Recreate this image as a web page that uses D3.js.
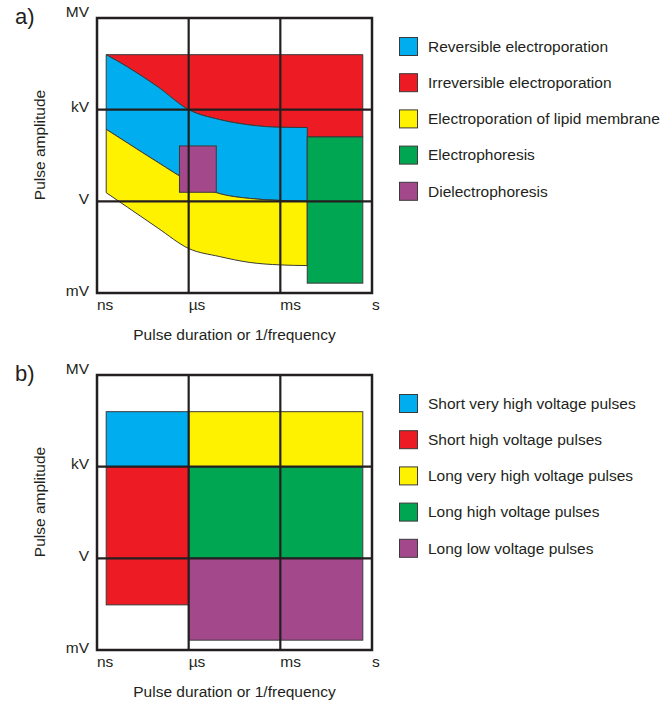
<!DOCTYPE html>
<html>
<head>
<meta charset="utf-8">
<script src="https://cdn.jsdelivr.net/npm/d3@7"></script>
<style>
  html, body { margin: 0; padding: 0; background: #fff; }
  svg { display: block; font-family: "Liberation Sans", Arial, sans-serif; }
</style>
</head>
<body>
<svg id="chart" width="661" height="702"></svg>
<script>
// Axis ticks (log decades)
const tickTimes = [1e-9, 1e-6, 1e-3, 1];
const timeLabels = ["ns", "µs", "ms", "s"];
const tickVolts = [1e-3, 1, 1e3, 1e6];
const voltLabels = ["mV", "V", "kV", "MV"];

// Panel a: boundaries sampled along pulse duration (s), amplitudes in V
const boundaryT = [2e-9, 1e-8, 1e-7, 1e-6, 1e-5, 1e-4, 1e-3, 7.6e-3];
const irreversibleV = [6.3e4, 2.5e4, 5.5e3, 1e3, 478, 316, 265, 260];
const reversibleV = [228, 81, 18.7, 4.6, 1.8, 1.24, 1.07, 1.0];
const lipidLowV = [1.92, 0.64, 0.132, 0.0286, 0.0157, 0.0100, 0.0083, 0.0079];
const topV = 6.3e4;
const endT = 0.5;
const electrophoresisT = [7.6e-3, 0.5];
const electrophoresisV = [2.1e-3, 128];
const dielectrophoresisT = [5e-7, 8e-6];
const dielectrophoresisV = [1.98, 65];

const aLabels = ["Reversible electroporation", "Irreversible electroporation",
  "Electroporation of lipid membrane", "Electrophoresis", "Dielectrophoresis"];
const aColors = ["#00aeef", "#ed1c24", "#fff200", "#00a651", "#a3498b"];

// Panel b: rectangular pulse regimes
const bLabels = ["Short very high voltage pulses", "Short high voltage pulses",
  "Long very high voltage pulses", "Long high voltage pulses", "Long low voltage pulses"];
const bColors = ["#00aeef", "#ed1c24", "#fff200", "#00a651", "#a3498b"];
const bT0 = [2e-9, 2e-9, 1e-6, 1e-6, 1e-6];
const bT1 = [1e-6, 1e-6, 0.5, 0.5, 0.5];
const bV0 = [1e3, 0.03, 1e3, 1, 2.1e-3];
const bV1 = [6.3e4, 1e3, 6.3e4, 1e3, 1];

const svg = d3.select("#chart");
const ink = "#231f20";
const outline = "#3a3a3a";
const size = 275;
const fs = 15.5;

function panel(top, tag, drawShapes, labels, colors, legendTop) {
  const g = svg.append("g");
  const left = 97;
  const x = d3.scaleLog().domain([1e-9, 1]).range([left, left + size]);
  const y = d3.scaleLog().domain([1e-3, 1e6]).range([top + size, top]);

  drawShapes(g, x, y);

  // grid lines at decade marks
  g.selectAll("line.gx").data(tickTimes.slice(1, -1)).join("line")
    .attr("x1", d => x(d)).attr("x2", d => x(d))
    .attr("y1", top).attr("y2", top + size)
    .attr("stroke", ink).attr("stroke-width", 2.2);
  g.selectAll("line.gy").data(tickVolts.slice(1, -1)).join("line")
    .attr("y1", d => y(d)).attr("y2", d => y(d))
    .attr("x1", left).attr("x2", left + size)
    .attr("stroke", ink).attr("stroke-width", 2.2);
  g.append("rect").attr("x", left).attr("y", top)
    .attr("width", size).attr("height", size)
    .attr("fill", "none").attr("stroke", ink).attr("stroke-width", 2.5);

  // tick labels
  g.selectAll("text.tx").data(tickTimes).join("text")
    .attr("x", d => x(d)).attr("y", top + size + 17)
    .attr("font-size", fs).attr("fill", ink)
    .text((d, i) => timeLabels[i]);
  g.selectAll("text.ty").data(tickVolts).join("text")
    .attr("x", 89)
    .attr("y", (d, i) => y(d) + (i === tickVolts.length - 1 ? -1 : 2.5))
    .attr("text-anchor", "end").attr("font-size", fs).attr("fill", ink)
    .text((d, i) => voltLabels[i]);

  // axis titles
  g.append("text").attr("x", left + size / 2).attr("y", top + size + 47)
    .attr("text-anchor", "middle").attr("font-size", fs).attr("fill", ink)
    .text("Pulse duration or 1/frequency");
  g.append("text")
    .attr("transform", `translate(45,${top + 127}) rotate(-90)`)
    .attr("text-anchor", "middle").attr("font-size", fs).attr("fill", ink)
    .text("Pulse amplitude");

  g.append("text").attr("x", 15).attr("y", top + 6)
    .attr("font-size", 22).attr("fill", ink).text(tag);

  // legend
  const lg = g.append("g");
  const items = lg.selectAll("g").data(labels).join("g")
    .attr("transform", (d, i) => `translate(399.5,${legendTop + i * 36.2})`);
  items.append("rect").attr("x", 0).attr("y", -9).attr("width", 18).attr("height", 18)
    .attr("fill", (d, i) => colors[i]).attr("stroke", outline).attr("stroke-width", 1);
  items.append("text").attr("x", 28.5).attr("y", 5.3)
    .attr("font-size", fs).attr("fill", ink).text(d => d);
}

// Panel a
panel(18, "a)", (g, x, y) => {
  const pts = (vals) => boundaryT.map((t, i) => [x(t), y(vals[i])]);
  const curve = d3.line().curve(d3.curveMonotoneX);

  // irreversible: above the irreversible threshold
  const irr = curve(pts(irreversibleV)) +
    `L${x(electrophoresisT[0])},${y(electrophoresisV[1])}` +
    `L${x(endT)},${y(electrophoresisV[1])}` +
    `L${x(endT)},${y(topV)}Z`;
  g.append("path").attr("d", irr).attr("fill", aColors[1])
    .attr("stroke", outline).attr("stroke-width", 1);

  const band = d3.area()
    .x((d, i) => x(boundaryT[i]))
    .curve(d3.curveMonotoneX);

  // reversible band
  g.append("path")
    .attr("d", band.y0((d, i) => y(reversibleV[i])).y1((d, i) => y(irreversibleV[i]))(boundaryT))
    .attr("fill", aColors[0]).attr("stroke", outline).attr("stroke-width", 1);

  // lipid membrane band
  g.append("path")
    .attr("d", band.y0((d, i) => y(lipidLowV[i])).y1((d, i) => y(reversibleV[i]))(boundaryT))
    .attr("fill", aColors[2]).attr("stroke", outline).attr("stroke-width", 1);

  // electrophoresis
  g.append("rect")
    .attr("x", x(electrophoresisT[0])).attr("y", y(electrophoresisV[1]))
    .attr("width", x(electrophoresisT[1]) - x(electrophoresisT[0]))
    .attr("height", y(electrophoresisV[0]) - y(electrophoresisV[1]))
    .attr("fill", aColors[3]).attr("stroke", outline).attr("stroke-width", 1);

  // dielectrophoresis
  g.append("rect")
    .attr("x", x(dielectrophoresisT[0])).attr("y", y(dielectrophoresisV[1]))
    .attr("width", x(dielectrophoresisT[1]) - x(dielectrophoresisT[0]))
    .attr("height", y(dielectrophoresisV[0]) - y(dielectrophoresisV[1]))
    .attr("fill", aColors[4]).attr("stroke", outline).attr("stroke-width", 1);
}, aLabels, aColors, 46.5);

// Panel b
panel(375, "b)", (g, x, y) => {
  g.selectAll("rect.block").data(bLabels).join("rect")
    .attr("x", (d, i) => x(bT0[i]))
    .attr("y", (d, i) => y(bV1[i]))
    .attr("width", (d, i) => x(bT1[i]) - x(bT0[i]))
    .attr("height", (d, i) => y(bV0[i]) - y(bV1[i]))
    .attr("fill", (d, i) => bColors[i])
    .attr("stroke", outline).attr("stroke-width", 1);
}, bLabels, bColors, 403.5);
</script>
</body>
</html>
